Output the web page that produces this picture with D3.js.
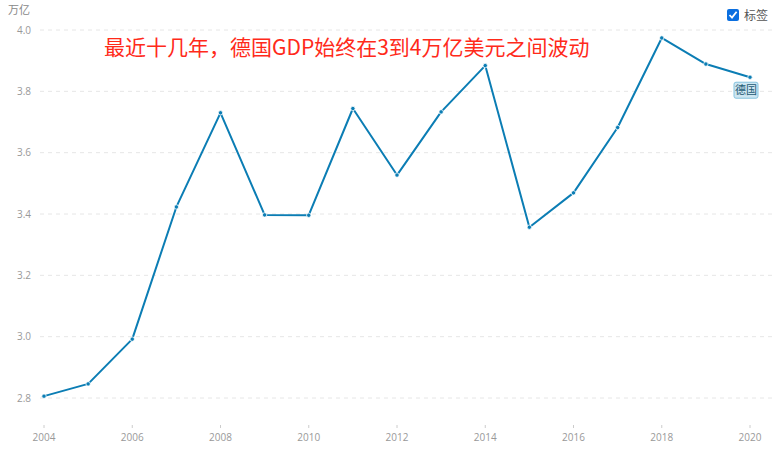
<!DOCTYPE html>
<html><head><meta charset="utf-8">
<script src="https://cdn.jsdelivr.net/npm/d3@7"></script>
<style>
body{margin:0;background:#fff;font-family:"Noto Sans CJK SC","Open Sans",sans-serif;}
</style></head>
<body>
<svg id="c" width="780" height="472"></svg>
<script>
const years = [2004,2005,2006,2007,2008,2009,2010,2011,2012,2013,2014,2015,2016,2017,2018,2019,2020];
const gdp = [2.806,2.846,2.992,3.423,3.730,3.397,3.396,3.744,3.527,3.733,3.884,3.357,3.469,3.682,3.974,3.889,3.846];
const yTicks = [2.8,3.0,3.2,3.4,3.6,3.8,4.0];
const xTicks = [2004,2006,2008,2010,2012,2014,2016,2018,2020];
const seriesName = "德国";
const unitLabel = "万亿";
const legendLabel = "标签";
const titleText = "最近十几年，德国GDP始终在3到4万亿美元之间波动";

const svg = d3.select("#c");
const x = d3.scaleLinear().domain([2004,2020]).range([44,750]);
const y = d3.scaleLinear().domain([2.8,4.0]).range([398,30]);
const color = "#0b7db4";

// grid
svg.append("g").selectAll("line").data(yTicks).join("line")
  .attr("x1",40).attr("x2",776)
  .attr("y1",d=>y(d)).attr("y2",d=>y(d))
  .attr("stroke","#e6e6e6").attr("stroke-dasharray","4,4").attr("stroke-width",1);

// y labels
svg.append("g").selectAll("text").data(yTicks).join("text")
  .attr("x",31).attr("y",d=>y(d)+3.5).attr("text-anchor","end")
  .attr("font-size",10).attr("fill","#999").attr("font-family","Open Sans, sans-serif")
  .text(d=>d.toFixed(1));

svg.append("text").attr("x",8).attr("y",14).attr("font-size",11).attr("fill","#888")
  .text(unitLabel);

// x ticks
const xg = svg.append("g");
xg.selectAll("line").data(xTicks).join("line")
  .attr("x1",d=>x(d)).attr("x2",d=>x(d)).attr("y1",425).attr("y2",428)
  .attr("stroke","#ccc");
xg.selectAll("text").data(xTicks).join("text")
  .attr("x",d=>x(d)).attr("y",441).attr("text-anchor","middle")
  .attr("font-size",10).attr("fill","#999").attr("font-family","Open Sans, sans-serif")
  .text(d=>d);

// line
const line = d3.line().x((d,i)=>x(years[i])).y(d=>y(d));
svg.append("path").datum(gdp).attr("d",line).attr("fill","none")
  .attr("stroke",color).attr("stroke-width",2).attr("stroke-linejoin","round");
svg.append("g").selectAll("circle").data(gdp).join("circle")
  .attr("cx",(d,i)=>x(years[i])).attr("cy",d=>y(d)).attr("r",2.2)
  .attr("fill",color).attr("stroke","#fff").attr("stroke-width",0.8);

// end label
const lx = x(years[years.length-1]) - 4, ly = y(gdp[gdp.length-1]) + 13;
svg.append("rect").attr("x",lx-12).attr("y",ly-8).attr("width",24).attr("height",16).attr("rx",2)
  .attr("fill","#cde6f2").attr("stroke","#86c3de");
svg.append("text").attr("x",lx).attr("y",ly+4).attr("text-anchor","middle")
  .attr("font-size",11).attr("fill","#1d5a74").text(seriesName);

// title
svg.append("text").attr("x",104).attr("y",55).attr("font-size",21).attr("fill","#ff2a1a")
  .attr("font-family","Noto Sans CJK SC, sans-serif").text(titleText);

// checkbox legend
svg.append("rect").attr("x",727).attr("y",9).attr("width",12).attr("height",12).attr("rx",2)
  .attr("fill","#0b6fe0");
svg.append("path").attr("d","M729.5,15 L732,17.6 L736.6,11.8").attr("fill","none")
  .attr("stroke","#fff").attr("stroke-width",1.8);
svg.append("text").attr("x",744).attr("y",20).attr("font-size",12).attr("fill","#555")
  .text(legendLabel);
</script>
</body></html>
